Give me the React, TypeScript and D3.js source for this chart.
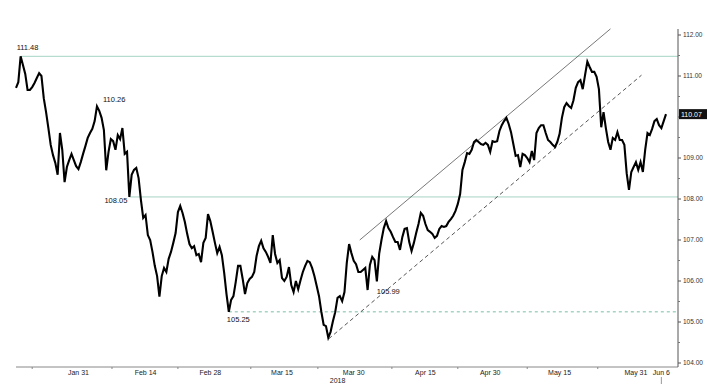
import * as d3 from "d3";

// closing prices, one per bar (oldest first)
const VALUES = [
  110.71, 110.85, 111.48, 111.27, 111.05, 110.66, 110.66, 110.73, 110.83, 110.95,
  111.07, 111.0, 110.46, 110.12, 109.73, 109.32, 109.07, 108.88, 108.59, 109.61,
  109.2, 108.41, 108.78, 108.95, 109.1, 108.95, 108.8, 108.73, 108.9, 109.1,
  109.29, 109.49, 109.61, 109.71, 109.9, 110.26, 110.15, 109.98, 109.68, 108.7,
  109.15, 109.46, 109.41, 109.2, 109.56, 109.46, 109.73, 109.1, 109.15, 108.05,
  108.59, 108.71, 108.76, 108.51, 107.98, 107.54, 107.61, 107.12, 107.0, 106.71,
  106.37, 106.12, 105.62, 106.12, 106.32, 106.22, 106.54, 106.71, 106.93, 107.17,
  107.68, 107.83, 107.66, 107.44, 107.15, 106.9, 106.8, 106.85, 106.63, 106.66,
  106.46, 106.93, 107.05, 107.63, 107.46, 107.2, 106.93, 106.68, 106.83, 106.63,
  106.2, 105.68, 105.25, 105.54, 105.63, 105.98, 106.37, 106.37, 106.05, 105.68,
  105.95, 106.05, 106.1, 106.22, 106.61, 106.85, 106.98, 106.8, 106.71, 106.59,
  106.44, 107.12, 106.66, 106.44, 106.51, 106.07, 106.0, 106.1, 106.34, 105.9,
  105.73, 106.0, 105.8, 106.02, 106.22, 106.37, 106.49, 106.46, 106.32, 106.12,
  105.88, 105.63, 105.25, 104.93, 104.9, 104.62, 104.76, 105.02, 105.24, 105.59,
  105.63, 105.51, 105.73, 106.44, 106.9, 106.68, 106.49, 106.41, 106.22, 106.22,
  106.27, 106.32, 105.78, 106.39, 106.59, 106.51, 105.99, 106.66, 107.0, 107.29,
  107.46, 107.29, 107.2, 107.07, 106.95, 106.95, 106.76, 107.07, 107.27, 107.29,
  106.95, 106.73, 106.93, 107.17, 107.39, 107.66, 107.59, 107.39, 107.24, 107.2,
  107.15, 107.05, 107.1, 107.27, 107.34, 107.32, 107.34, 107.44, 107.51, 107.59,
  107.71, 107.88, 108.12, 108.71, 108.9, 109.12, 109.1, 109.2, 109.39, 109.44,
  109.39, 109.34, 109.32, 109.37, 109.32, 109.15, 109.41, 109.39, 109.41, 109.66,
  109.8, 109.9, 109.98, 109.83, 109.63, 109.34, 109.05, 109.07, 108.78, 109.1,
  109.07, 109.0, 108.9, 109.17, 108.95, 109.61, 109.73, 109.8, 109.8, 109.61,
  109.44, 109.39, 109.32, 109.27, 109.39, 109.59, 109.98, 110.24, 110.34, 110.27,
  110.22, 110.41, 110.71, 110.85, 110.9, 110.68, 111.02, 111.35, 111.22, 111.1,
  111.1, 110.98, 110.68, 109.75, 110.12, 109.73, 109.39, 109.2, 109.49, 109.44,
  109.63, 109.44, 109.44, 109.32, 108.63, 108.22, 108.66, 108.78, 108.9, 108.71,
  108.9, 108.66, 109.2, 109.61, 109.56, 109.71, 109.9, 109.95, 109.8, 109.73,
  109.9, 110.07,
];

// date labels and the bar each falls on
const TICK_LABELS = ["Jan 31", "Feb 14", "Feb 28", "Mar 15", "Mar 30", "Apr 15", "Apr 30", "May 15", "May 31", "Jun 6"];
const TICK_BARS = [27, 56, 84, 115, 146, 177, 205, 235, 268, 279];
const MINOR_BARS = [7, 41.5, 70, 101.5, 130.5, 162.5, 191, 221, 251.5];
const YEAR_LABEL = "2018";
const YEAR_BAR = 139;

const Y_TICKS = [104, 105, 106, 107, 108, 109, 110, 111, 112];

// horizontal levels: value, first bar, dashed?
const LEVELS = [111.48, 108.05, 105.25];
const LEVEL_START = [2, 49, 92];
const LEVEL_DASHED = [false, false, true];

// channel lines [bar, value] -> [bar, value]
const UPPER_CHANNEL: [number, number][] = [[148.6, 107.0], [257, 112.15]];
const LOWER_CHANNEL: [number, number][] = [[135.2, 104.59], [270.4, 111.02]];

// annotated points: label, bar
const NOTES = ["111.48", "110.26", "108.05", "105.25", "105.99"];
const NOTE_BARS = [2, 35, 49, 92, 156];

const W = 707;
const H = 390;
const FONT = "'Liberation Sans', Arial, sans-serif";
const TEAL = "#a6d3c4";

export default function App() {
  const x = d3.scaleLinear().domain([0, VALUES.length - 1]).range([16, 666]);
  const y = d3.scaleLinear().domain([104, 112]).range([363, 35]);
  const axisX = 678;
  const axisY = 367;

  const line = d3
    .line<number>()
    .x((_, i) => x(i))
    .y((d) => y(d));

  const last = VALUES[VALUES.length - 1];

  // label offsets relative to their points
  const noteOffsets: [number, number, string][] = [
    [-4, -6, "start"],
    [6, -4, "start"],
    [-2, 6, "end"],
    [-2, 10, "start"],
    [0, 13, "start"],
  ];

  return (
    <svg
      width={W}
      height={H}
      style={{ position: "fixed", left: 0, top: 0, background: "#fff" }}
      fontFamily={FONT}
    >
      {/* level lines */}
      {LEVELS.map((v, i) => (
        <line
          key={"lvl" + i}
          x1={x(LEVEL_START[i])}
          x2={axisX}
          y1={y(v)}
          y2={y(v)}
          stroke={TEAL}
          strokeWidth={LEVEL_DASHED[i] ? 1.4 : 1}
          strokeDasharray={LEVEL_DASHED[i] ? "3,3" : undefined}
        />
      ))}

      {/* channel */}
      <line
        x1={x(UPPER_CHANNEL[0][0])}
        y1={y(UPPER_CHANNEL[0][1])}
        x2={x(UPPER_CHANNEL[1][0])}
        y2={y(UPPER_CHANNEL[1][1])}
        stroke="#555"
        strokeWidth={0.8}
      />
      <line
        x1={x(LOWER_CHANNEL[0][0])}
        y1={y(LOWER_CHANNEL[0][1])}
        x2={x(LOWER_CHANNEL[1][0])}
        y2={y(LOWER_CHANNEL[1][1])}
        stroke="#444"
        strokeWidth={0.9}
        strokeDasharray="4,3"
      />

      {/* price */}
      <path d={line(VALUES) ?? ""} fill="none" stroke="#000" strokeWidth={2.1} strokeLinejoin="miter" />

      {/* notes */}
      {NOTES.map((t, i) => {
        const [dx, dy, anchor] = noteOffsets[i];
        return (
          <text
            key={"note" + i}
            x={x(NOTE_BARS[i]) + dx}
            y={y(VALUES[NOTE_BARS[i]]) + dy}
            fontSize={7.5}
            fill="#111"
            textAnchor={anchor}
          >
            {t}
          </text>
        );
      })}

      {/* x axis */}
      <line x1={16} x2={axisX} y1={axisY} y2={axisY} stroke="#888" strokeWidth={1} />
      {MINOR_BARS.map((b, i) => (
        <line key={"mx" + i} x1={x(b)} x2={x(b)} y1={axisY} y2={axisY + 2} stroke="#888" />
      ))}
      {TICK_LABELS.map((t, i) => (
        <text key={"tx" + i} x={x(TICK_BARS[i])} y={axisY + 8} fontSize={7} fill="#222" textAnchor="middle">
          {t}
        </text>
      ))}
      <line x1={x(TICK_BARS[9])} x2={x(TICK_BARS[9])} y1={axisY + 10} y2={axisY + 17} stroke="#999" />
      <text x={x(YEAR_BAR)} y={axisY + 16} fontSize={7} fill="#222" textAnchor="middle">
        {YEAR_LABEL}
      </text>

      {/* y axis */}
      <line x1={axisX} x2={axisX} y1={29} y2={axisY} stroke="#555" strokeWidth={1} />
      {Y_TICKS.map((v) => (
        <g key={"ty" + v}>
          <line x1={axisX} x2={axisX + 3} y1={y(v)} y2={y(v)} stroke="#555" />
          {v < 112 && <line x1={axisX} x2={axisX + 2} y1={y(v + 0.5)} y2={y(v + 0.5)} stroke="#777" />}
          {Math.abs(y(v) - y(last)) > 9 && (
            <text x={axisX + 5} y={y(v) + 2.3} fontSize={6.5} fill="#333">
              {v.toFixed(2)}
            </text>
          )}
        </g>
      ))}

      {/* last value tag */}
      <rect x={axisX + 1} y={y(last) - 5} width={28} height={10} fill="#111" />
      <text x={axisX + 3} y={y(last) + 2.5} fontSize={7} fill="#fff">
        {last.toFixed(2)}
      </text>
    </svg>
  );
}
